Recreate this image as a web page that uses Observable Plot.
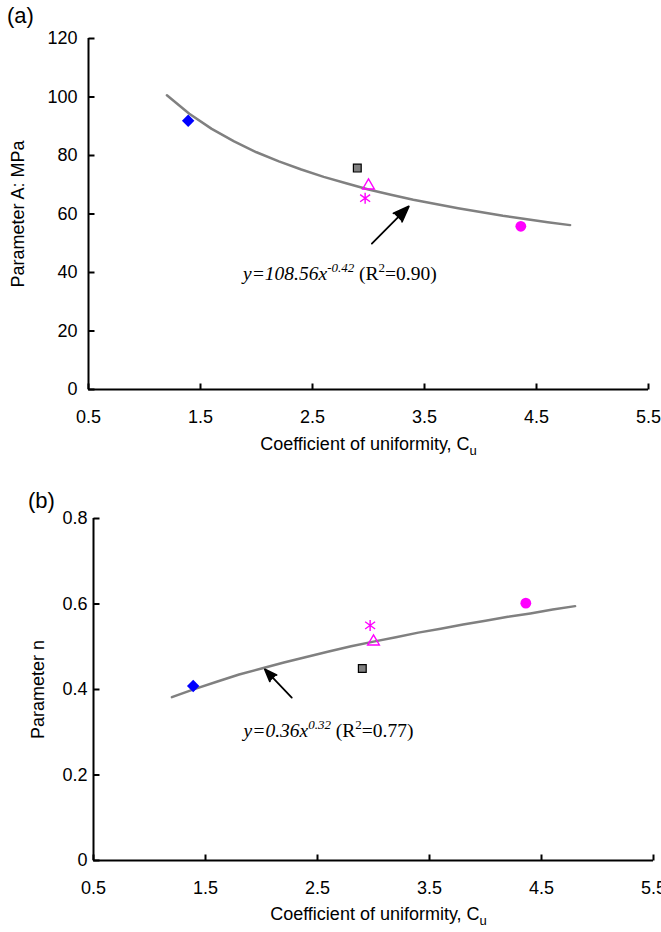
<!DOCTYPE html>
<html>
<head>
<meta charset="utf-8">
<script src="https://cdn.jsdelivr.net/npm/d3@7"></script>
<script src="https://cdn.jsdelivr.net/npm/@observablehq/plot@0.6"></script>
<style>
  html, body { margin: 0; padding: 0; background: #fff; }
  #wrap { position: relative; width: 661px; height: 932px; overflow: hidden; font-family: "Liberation Sans", Arial, sans-serif; }
  .panel { position: absolute; left: 0; }
  .tag { position: absolute; font-size: 22px; line-height: 22px; color: #000; }
</style>
</head>
<body>
<div id="wrap">
  <div id="plotA" class="panel" style="top:0px"></div>
  <div id="plotB" class="panel" style="top:470px"></div>
  <span class="tag" style="left:7px;top:5px">(a)</span>
  <span class="tag" style="left:28px;top:490px">(b)</span>
</div>
<script>
// ---------------- data ----------------
const samples = ["S1", "S2", "S3", "S4", "S5"];
const cu      = [1.39, 2.90, 3.00, 2.97, 4.36];
const paramA  = [91.9, 75.7, 69.7, 65.4, 55.8];
const paramN  = [0.408, 0.449, 0.512, 0.550, 0.602];

// fitted trend lines
const fitX = [1.2, 1.4, 1.6, 1.8, 2.0, 2.2, 2.4, 2.6, 2.8, 3.0, 3.2, 3.4, 3.6, 3.8, 4.0, 4.2, 4.4, 4.6, 4.8];
const fitA = [100.6, 94.3, 89.1, 84.8, 81.1, 78.0, 75.2, 72.7, 70.5, 68.4, 66.6, 64.9, 63.4, 62.0, 60.7, 59.4, 58.3, 57.2, 56.2];
const fitN = [0.382, 0.401, 0.418, 0.435, 0.449, 0.463, 0.476, 0.489, 0.501, 0.512, 0.522, 0.533, 0.542, 0.552, 0.561, 0.570, 0.578, 0.587, 0.595];

// tick values
const xTicks = [0.5, 1.5, 2.5, 3.5, 4.5, 5.5];
const aTicks = [0, 20, 40, 60, 80, 100, 120];
const nTicks = [0, 0.2, 0.4, 0.6, 0.8];

// texts
const xTitle = "Coefficient of uniformity, Cu";
const yTitleA = "Parameter A: MPa";
const yTitleN = "Parameter n";
const eqA = "EQA";
const eqN = "EQN";

// annotation anchors (data units)
const arrowA = [{x1: 3.03, y1: 49.9, x2: 3.36, y2: 62.6}];
const arrowN = [{x1: 2.27, y1: 0.381, x2: 2.03, y2: 0.447}];
const eqAPos = [{x: 1.88, y: 39.6}];
const eqNPos = [{x: 1.84, y: 0.303}];

// ---------------- styles ----------------
const starSym = {draw(ctx) {
  ctx.moveTo(0, -5.5); ctx.lineTo(0, 5.5);
  ctx.moveTo(-5, -3.6); ctx.lineTo(5, 3.6);
  ctx.moveTo(-5, 3.6); ctx.lineTo(5, -3.6);
}};
const sampleStyle = [
  {symbol: "diamond2", fill: "#0000FF", stroke: "none", r: 5.6, sw: 0},
  {symbol: "square", fill: "#808080", stroke: "#000000", r: 4.4, sw: 1.2},
  {symbol: "triangle2", fill: "none", stroke: "#FF00FF", r: 5.6, sw: 1.4},
  {symbol: starSym, fill: "none", stroke: "#FF00FF", r: 5.2, sw: 1.4},
  {symbol: "circle", fill: "#FF00FF", stroke: "none", r: 5.4, sw: 0}
];
const tickRight = {draw(ctx) { ctx.moveTo(0, 0); ctx.lineTo(6, 0); }};
const tickUp = {draw(ctx) { ctx.moveTo(0, 0); ctx.lineTo(0, -6); }};
const FONT = "'Liberation Sans', Arial, sans-serif";
const SERIF = "'Liberation Serif', 'Times New Roman', serif";

function makePanel({yVals, fitY, yTicks, yDomain, yFmt, yTitle, arrow, eqPos, eqKey,
                    height, margins, yTitleDx, xTitleDx, xTitleDy, yTickPad}) {
  const rows = samples.map((s, i) => ({s, x: cu[i], y: yVals[i], i}));
  const fit = fitX.map((x, i) => ({x, y: fitY[i]}));
  const dots = rows.map(r => {
    const st = sampleStyle[r.i];
    return Plot.dot([r], {x: "x", y: "y", symbol: typeof st.symbol === "string" ? () => st.symbol : st.symbol, r: st.r,
      fill: st.fill, stroke: st.stroke, strokeWidth: st.sw});
  });
  return Plot.plot({
    width: 661, height,
    marginLeft: margins[0], marginRight: margins[1], marginTop: margins[2], marginBottom: margins[3],
    style: {fontFamily: FONT, fontSize: "18px", color: "#000", background: "#fff"},
    x: {domain: [0.5, 5.5], ticks: xTicks, tickFormat: d => d.toFixed(1), tickSize: 0, tickPadding: 21, label: null},
    y: {domain: yDomain, ticks: yTicks, tickFormat: yFmt, tickSize: 0, tickPadding: yTickPad, label: null},
    symbol: {type: "identity"},
    marks: [
      Plot.ruleX([0.5], {stroke: "#000", strokeWidth: 2}),
      Plot.ruleY([yDomain[0]], {stroke: "#000", strokeWidth: 2}),
      Plot.dot(yTicks, {x: () => 0.5, y: d => d, symbol: tickRight, r: 3, fill: "none", stroke: "#000", strokeWidth: 2}),
      Plot.dot(xTicks, {x: d => d, y: () => yDomain[0], symbol: tickUp, r: 3, fill: "none", stroke: "#000", strokeWidth: 2}),
      Plot.line(fit, {x: "x", y: "y", stroke: "#808080", strokeWidth: 2.5}),
      ...dots,
      Plot.arrow(arrow, {x1: "x1", y1: "y1", x2: "x2", y2: "y2", stroke: "#000", strokeWidth: 1.8, headLength: 14, headAngle: 42}),
      Plot.text(eqPos, {x: "x", y: "y", text: () => eqKey, textAnchor: "start", fontFamily: SERIF, fontSize: 19.5}),
      Plot.text([yTitle], {frameAnchor: "left", textAnchor: "middle", text: d => d, rotate: -90, dx: yTitleDx, fontSize: 18}),
      Plot.text([xTitle], {frameAnchor: "bottom", textAnchor: "middle", text: d => d, dx: xTitleDx, dy: xTitleDy, fontSize: 18})
    ]
  });
}

function tspans(textSel, parts) {
  textSel.each(function() {
    const t = d3.select(this);
    t.text(null);
    for (const p of parts) {
      const ts = t.append("tspan").text(p.t);
      if (p.italic) ts.attr("font-style", "italic");
      if (p.size) ts.attr("font-size", p.size);
      if (p.dy != null) ts.attr("dy", p.dy);
    }
  });
}

function finish(svg, eqKey, eqParts) {
  const s = d3.select(svg);
  tspans(s.selectAll("text").filter(function() { return this.textContent === eqKey; }), eqParts);
  tspans(s.selectAll("text").filter(function() { return this.textContent === xTitle; }),
    [{t: "Coefficient of uniformity, C"}, {t: "u", size: 13, dy: 5}]);
  s.selectAll('g[aria-label="arrow"] path').attr("fill", "#000").attr("stroke-linejoin", "miter");
}

const plotA = makePanel({
  yVals: paramA, fitY: fitA, yTicks: aTicks, yDomain: [0, 120], yFmt: d => String(d),
  yTitle: yTitleA, arrow: arrowA, eqPos: eqAPos, eqKey: eqA,
  height: 470, margins: [88, 13, 38, 81], yTitleDx: -70, xTitleDx: 0, xTitleDy: 60, yTickPad: 11
});
finish(plotA, eqA, [
  {t: "y=108.56x", italic: true},
  {t: "-0.42", italic: true, size: 13, dy: -8},
  {t: " (R", dy: 8},
  {t: "2", size: 13, dy: -8},
  {t: "=0.90)", dy: 8}
]);
document.getElementById("plotA").appendChild(plotA);

const plotB = makePanel({
  yVals: paramN, fitY: fitN, yTicks: nTicks, yDomain: [0, 0.8], yFmt: d => d === 0 ? "0" : d.toFixed(1),
  yTitle: yTitleN, arrow: arrowN, eqPos: eqNPos, eqKey: eqN,
  height: 462, margins: [93, 8, 48, 72], yTitleDx: -55, xTitleDx: 5, xTitleDy: 59, yTickPad: 6
});
finish(plotB, eqN, [
  {t: "y=0.36x", italic: true},
  {t: "0.32", italic: true, size: 13, dy: -8},
  {t: " (R", dy: 8},
  {t: "2", size: 13, dy: -8},
  {t: "=0.77)", dy: 8}
]);
document.getElementById("plotB").appendChild(plotB);
</script>
</body>
</html>
